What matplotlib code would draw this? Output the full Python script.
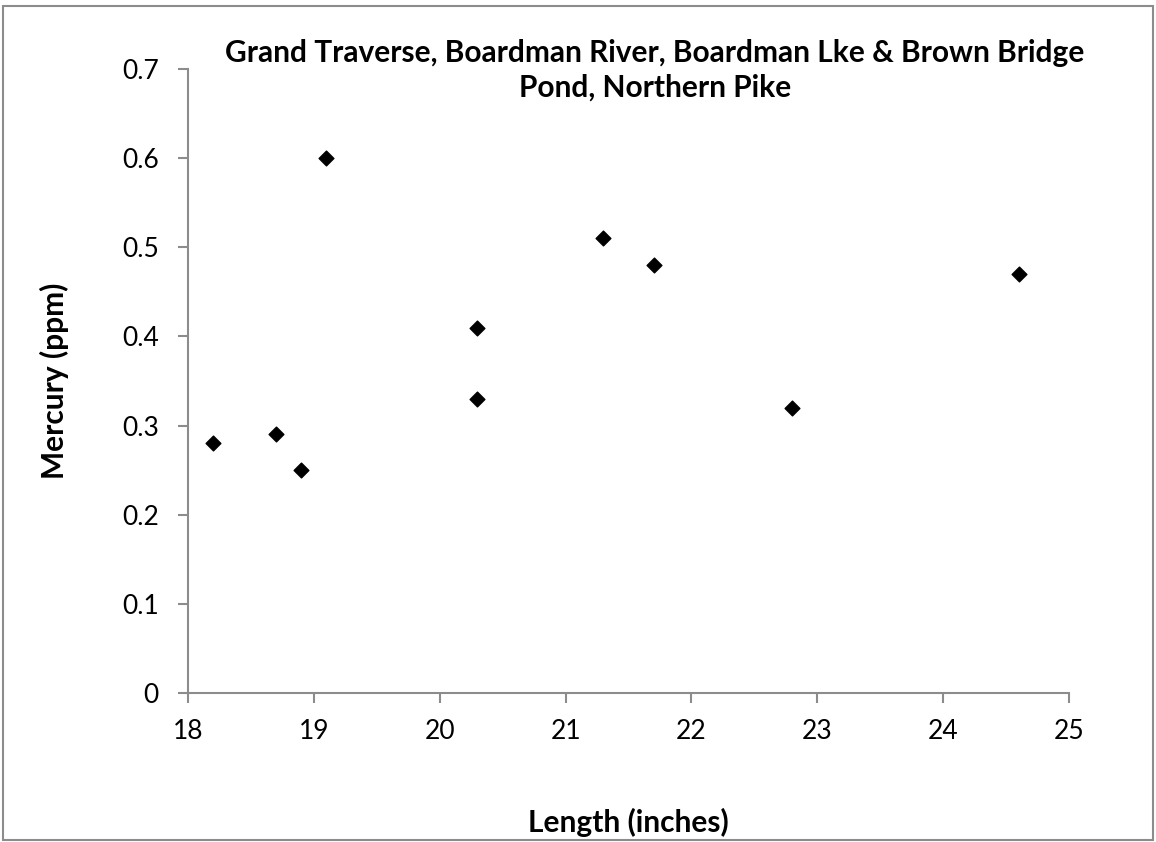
import matplotlib
matplotlib.use("Agg")
import matplotlib.pyplot as plt
from matplotlib.patches import Rectangle

length_in = [18.2, 18.7, 18.9, 19.1, 20.3, 20.3, 21.3, 21.7, 22.8, 24.6]
mercury_ppm = [0.28, 0.29, 0.25, 0.60, 0.41, 0.33, 0.51, 0.48, 0.32, 0.47]
x_ticks = [18, 19, 20, 21, 22, 23, 24, 25]
y_ticks = [0, 0.1, 0.2, 0.3, 0.4, 0.5, 0.6, 0.7]
y_tick_labels = ["0", "0.1", "0.2", "0.3", "0.4", "0.5", "0.6", "0.7"]

plt.rcParams['font.family'] = ['Lato', 'DejaVu Sans']

W, H = 1156, 842
fig = plt.figure(figsize=(W / 100, H / 100), dpi=100)
ax = fig.add_axes([188 / W, 1 - 693 / H, (1069 - 188) / W, (693 - 69) / H])

ax.scatter(length_in, mercury_ppm, marker='D', s=7.5 ** 2, color='black', zorder=3)

ax.set_xlim(18, 25)
ax.set_ylim(0, 0.7)
ax.set_xticks(x_ticks)
ax.set_yticks(y_ticks)
ax.set_yticklabels(y_tick_labels)

grey = '#8c8c8c'
for side in ['top', 'right']:
    ax.spines[side].set_visible(False)
for side in ['left', 'bottom']:
    ax.spines[side].set_color(grey)
    ax.spines[side].set_linewidth(1.5)
ax.tick_params(axis='both', direction='out', length=7, width=1.5, color=grey,
               labelsize=19, labelcolor='black')
ax.tick_params(axis='x', pad=12)
ax.tick_params(axis='y', pad=14)

ax.set_xlabel("Length (inches)", fontsize=21.5, fontweight='bold', labelpad=46)
ax.set_ylabel("Mercury (ppm)", fontsize=21.5, fontweight='bold', labelpad=38)

fig.text(655 / W, 1 - 70 / H,
         "Grand Traverse, Boardman River, Boardman Lke & Brown Bridge\nPond, Northern Pike",
         ha='center', va='center', fontsize=21.5, fontweight='bold', linespacing=1.3)

fig.patches.append(Rectangle((3 / W, 1 - 840 / H), 1150 / W, 834 / H,
                             transform=fig.transFigure, fill=False,
                             edgecolor=grey, linewidth=1.5))

fig.savefig("out.png", dpi=100)
